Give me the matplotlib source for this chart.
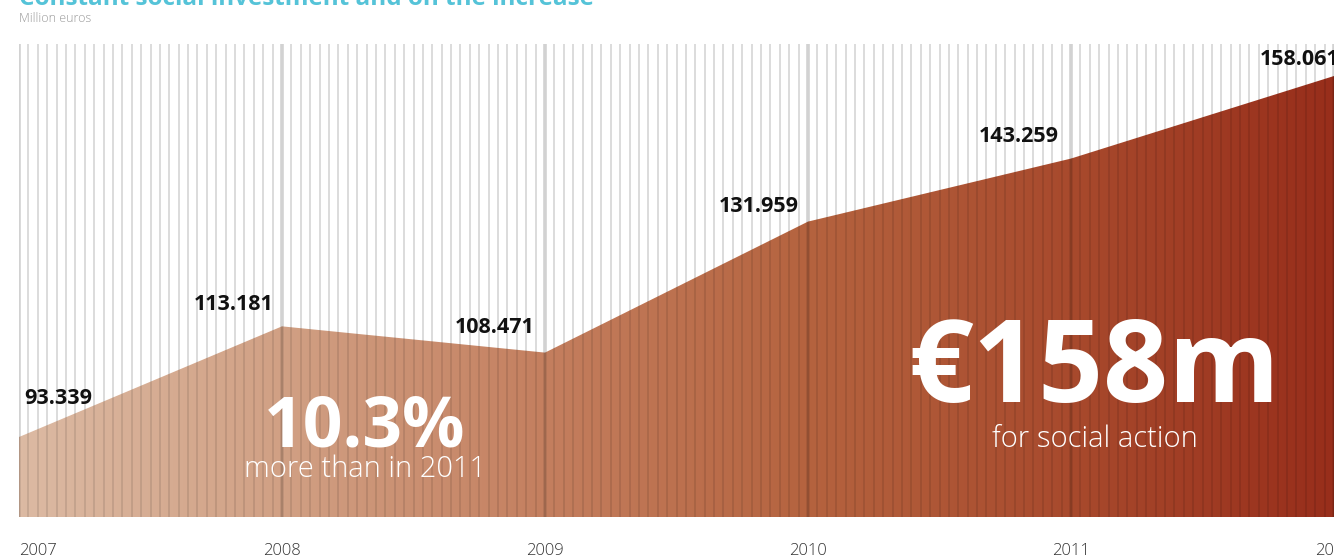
import matplotlib.pyplot as plt
import numpy as np
from matplotlib.colors import LinearSegmentedColormap

# Data
years = [2007, 2008, 2009, 2010, 2011, 2012]
investment = [93.339, 113.181, 108.471, 131.959, 143.259, 158.061]
value_labels = ['93.339', '113.181', '108.471', '131.959', '143.259', '158.061']
year_labels = ['2007', '2008', '2009', '2010', '2011', '2012']

# label offsets in pixels (dx, dy) relative to each point
offsets = [(39, 39), (-48, 22), (-50, 25), (-49, 15), (-52, 22), (-34, 17)]

y_low, y_high = 79, 163.8
W, H = 1334, 556

fig = plt.figure(figsize=(W / 100, H / 100), dpi=100)
ax = fig.add_axes([19 / W, (H - 517) / H, (W - 19) / W, (517 - 44) / H])
ax.set_xlim(years[0], years[-1])
ax.set_ylim(y_low, y_high)

# background thin vertical lines
grid_x = np.linspace(years[0], years[-1], 141)
ax.vlines(grid_x, y_low, y_high, color='#d9d9d9', lw=1.3, zorder=0)
ax.vlines(years, y_low, y_high, color='#d2d2d2', lw=2.6, zorder=0)

# gradient-filled area
poly = ax.fill_between(years, investment, y_low, color='none', lw=0)
cmap = LinearSegmentedColormap.from_list(
    'brown', ['#dcbaa3', '#d1a084', '#c47f5f', '#b5633f', '#a84a2d', '#982e1b'])
grad = np.linspace(0, 1, 512).reshape(1, -1)
im = ax.imshow(grad, extent=[years[0], years[-1], y_low, y_high],
               aspect='auto', cmap=cmap, zorder=1, interpolation='bilinear')
clip = poly.get_paths()[0]
im.set_clip_path(clip, transform=ax.transData)

lines_in = ax.vlines(grid_x, y_low, y_high, color='black', alpha=0.1, lw=1.3, zorder=2)
lines_in.set_clip_path(clip, transform=ax.transData)
years_in = ax.vlines(years, y_low, y_high, color='black', alpha=0.1, lw=2.6, zorder=2)
years_in.set_clip_path(clip, transform=ax.transData)

# value labels
for x, y, lab, (dx, dy) in zip(years, investment, value_labels, offsets):
    ax.annotate(lab, xy=(x, y), xytext=(dx, dy), textcoords='offset pixels',
                ha='center', va='center', fontsize=15.5, fontweight='bold',
                family='Open Sans', color='#111111', zorder=5,
                annotation_clip=False)

# big callouts
ax.text(0.263, 0.188, '10.3%', transform=ax.transAxes, ha='center', va='center',
        fontsize=50, fontweight='bold', family='Open Sans', color='white', zorder=5)
ax.text(0.263, 0.102, 'more than in 2011', transform=ax.transAxes, ha='center',
        va='center', fontsize=21, fontweight='light', family='Open Sans',
        color='white', zorder=5)
ax.text(0.818, 0.306, '€158m', transform=ax.transAxes, ha='center', va='center',
        fontsize=82, fontweight='bold', family='Open Sans', color='white', zorder=5)
ax.text(0.818, 0.164, 'for social action', transform=ax.transAxes, ha='center',
        va='center', fontsize=21, fontweight='light', family='Open Sans',
        color='white', zorder=5)

# axes styling
ax.set_xticks(years)
ax.set_xticklabels(year_labels, fontsize=12, family='Open Sans',
                   fontweight='light', color='#333333')
ax.get_xticklabels()[0].set_ha('left')
ax.tick_params(axis='x', length=0, pad=18.5)
ax.set_yticks([])
for s in ax.spines.values():
    s.set_visible(False)

# title and unit
fig.text(19 / W, 1 - 5 / H, 'Constant social investment and on the increase',
         ha='left', va='baseline', fontsize=17.5, fontweight='bold',
         family='Open Sans', color='#55c3d8')
fig.text(19 / W, 1 - 18 / H, 'Million euros', ha='left', va='center',
         fontsize=9, family='Open Sans', fontweight='light', color='#9a9a9a')

fig.savefig('out.png', dpi=100)
